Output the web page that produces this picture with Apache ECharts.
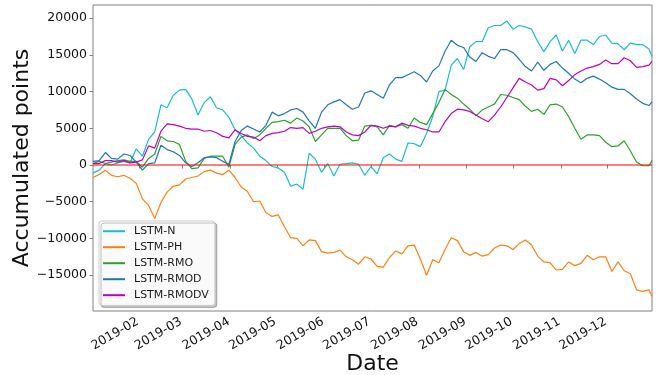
<!DOCTYPE html>
<html>
<head>
<meta charset="utf-8">
<script src="https://cdn.jsdelivr.net/npm/echarts@6/dist/echarts.min.js"></script>
<style>
  html, body { margin: 0; padding: 0; background: #fff; }
  #chart { width: 662px; height: 375px; }
</style>
</head>
<body>
<div id="chart"></div>
<script>
// Sampling dates (every four days through 2019)
const dates = [
  '2019-01-02','2019-01-06','2019-01-10','2019-01-14','2019-01-18','2019-01-22','2019-01-26','2019-01-30',
  '2019-02-03','2019-02-07','2019-02-11','2019-02-15','2019-02-19','2019-02-23','2019-02-27',
  '2019-03-03','2019-03-07','2019-03-11','2019-03-15','2019-03-19','2019-03-23','2019-03-27','2019-03-31',
  '2019-04-04','2019-04-08','2019-04-12','2019-04-16','2019-04-20','2019-04-24','2019-04-28',
  '2019-05-02','2019-05-06','2019-05-10','2019-05-14','2019-05-18','2019-05-22','2019-05-26','2019-05-30',
  '2019-06-03','2019-06-07','2019-06-11','2019-06-15','2019-06-19','2019-06-23','2019-06-27',
  '2019-07-01','2019-07-05','2019-07-09','2019-07-13','2019-07-17','2019-07-21','2019-07-25','2019-07-29',
  '2019-08-02','2019-08-06','2019-08-10','2019-08-14','2019-08-18','2019-08-22','2019-08-26','2019-08-30',
  '2019-09-03','2019-09-07','2019-09-11','2019-09-15','2019-09-19','2019-09-23','2019-09-27',
  '2019-10-01','2019-10-05','2019-10-09','2019-10-13','2019-10-17','2019-10-21','2019-10-25','2019-10-29',
  '2019-11-02','2019-11-06','2019-11-10','2019-11-14','2019-11-18','2019-11-22','2019-11-26','2019-11-30',
  '2019-12-04','2019-12-08','2019-12-12','2019-12-16','2019-12-20','2019-12-24','2019-12-28','2019-12-30'
];

const lstmN = [
  -1100,-700,200,0,300,500,300,2200,1200,3500,4500,8200,7800,9500,10200,
  10300,9000,6800,8500,9300,7800,7500,6500,
  4800,4000,3000,2300,1200,600,-200,
  -400,-1000,-2900,-2600,-3300,1600,800,-1000,
  200,-1500,100,200,300,100,-1400,
  -200,-1200,1000,1500,800,500,3000,2900,
  2500,4300,6600,10000,10200,13600,14500,13000,
  16100,16800,16800,18700,19000,19000,19600,
  18500,19000,18800,18500,16800,15400,16800,17700,
  15500,17000,15200,17000,17000,16400,17500,17700,
  16600,16500,15700,16600,16400,16400,15800,14800
];

const lstmPH = [
  -1700,-1300,-700,-1400,-1600,-1400,-1800,-2500,-4600,-5500,-7300,-5100,-3700,-2900,-2700,
  -1900,-1700,-1500,-900,-700,-1100,-1300,-700,
  -1700,-3000,-3600,-5000,-4900,-6500,-7000,
  -6800,-8400,-9900,-10000,-11000,-10200,-10300,-11800,
  -12000,-11900,-11600,-12500,-12900,-13500,-12500,
  -12800,-13800,-13900,-12600,-11700,-12100,-11000,-10900,
  -12800,-15000,-12900,-13300,-11500,-9900,-10300,-11800,
  -12300,-11900,-12400,-12200,-11300,-10900,-11000,
  -11500,-10700,-10200,-10900,-12400,-13200,-13300,-14300,
  -14200,-13200,-13700,-13400,-12300,-12900,-12500,-12500,
  -14500,-13200,-14400,-14800,-17000,-17200,-17000,-17900
];

const lstmRMO = [
  200,500,200,400,600,700,500,500,-300,900,1500,3900,3300,3200,2800,
  500,-500,-400,900,1200,1200,1200,-300,
  2800,3800,4100,3600,4100,5000,5800,
  5900,6100,5700,6400,6000,5200,3200,4100,
  5000,5000,5000,4000,3300,3400,5300,
  5400,5200,4100,5400,5200,5500,5000,6400,
  5800,5500,7000,8500,10300,9600,9100,8300,
  7600,6700,7500,7900,8300,9600,9500,
  9200,8900,8000,7300,7600,6900,8200,8300,
  7900,6600,5000,3500,4100,4100,4000,3100,
  2500,2600,3300,1900,400,-100,-100,600
];

const lstmRMOD = [
  500,600,1700,900,800,1500,1300,400,-700,200,300,2700,2100,1800,1300,
  300,-200,300,1000,1100,1000,500,100,
  3200,4700,5300,4900,4500,5400,7200,
  6700,7000,7500,7700,7200,6000,5000,7200,
  8200,8600,8900,8200,7600,7900,9800,
  10100,9600,9100,10900,11900,11900,12300,12700,
  12200,11300,12800,13500,15500,17000,16300,16000,
  14700,14100,15300,14800,14500,15700,15700,
  15300,14400,13400,12800,14000,12900,13700,14100,
  13200,12500,11700,11200,11800,12100,11700,11200,
  10600,10300,10300,9700,9000,8400,8100,8600
];

const lstmRMODV = [
  200,200,600,600,400,600,300,400,700,2600,2300,4600,5600,5500,5300,
  5000,4900,4900,4600,4700,4400,3900,3700,
  4800,4300,3900,3800,3300,4000,4300,
  4400,4600,5100,5000,5100,4300,4600,5000,
  5200,5300,5200,4500,4100,4000,4500,
  5400,5300,5000,5300,5200,5700,5400,5300,
  5000,4800,4500,4500,5900,7000,7600,7500,
  7300,6800,6300,5900,6800,7900,9200,
  10500,11800,11300,10900,10200,10400,11800,11600,
  10800,11500,12300,12800,13200,13400,13700,14300,
  13800,13800,14600,14200,13300,13400,13600,14100
];

const seriesNames = ['LSTM-N', 'LSTM-PH', 'LSTM-RMO', 'LSTM-RMOD', 'LSTM-RMODV'];
const seriesColors = ['#17becf', '#ff7f0e', '#2ca02c', '#1f77b4', '#bf00bf'];
const seriesValues = [lstmN, lstmPH, lstmRMO, lstmRMOD, lstmRMODV];

// Horizontal reference level
const zeroLevel = 0;

// Axis ticks
const monthTicks = ['2019-02','2019-03','2019-04','2019-05','2019-06','2019-07',
                    '2019-08','2019-09','2019-10','2019-11','2019-12'];
const yTicks = [-15000, -10000, -5000, 0, 5000, 10000, 15000, 20000];

const toTime = s => {
  const p = s.split('-').map(Number);
  return new Date(p[0], p[1] - 1, p[2] || 1).getTime();
};
const monthTickTimes = monthTicks.map(toTime);
const xMin = toTime(dates[0]);
const xMax = toTime(dates[dates.length - 1]);

const chart = echarts.init(document.getElementById('chart'), null, { renderer: 'canvas' });

const FONT = 'DejaVu Sans';
const TICK_FONT = 12.5;
const frameColor = '#808080';
const GRID = { left: 93, right: 10, top: 5, bottom: 64 };

const series = seriesNames.map((name, k) => ({
  name: name,
  type: 'line',
  showSymbol: false,
  symbol: 'none',
  smooth: false,
  animation: false,
  color: seriesColors[k],
  lineStyle: { width: 1.2, color: seriesColors[k] },
  z: 2,
  data: dates.map((d, i) => [toTime(d), seriesValues[k][i]])
}));

// red zero line across the whole year, drawn above the others
series.push({
  name: 'zero',
  type: 'line',
  symbol: 'none',
  silent: true,
  animation: false,
  z: 5,
  lineStyle: { width: 1.2, color: '#ff0000' },
  data: [[xMin, zeroLevel], [xMax, zeroLevel]]
});

const option = {
  backgroundColor: '#ffffff',
  animation: false,
  grid: Object.assign({
    show: true, borderColor: frameColor, borderWidth: 1, backgroundColor: 'transparent'
  }, GRID),
  legend: {
    orient: 'vertical',
    left: 99, top: 221,
    data: seriesNames,
    icon: 'rect',
    itemWidth: 22, itemHeight: 2,
    itemGap: 3.6,
    padding: [4, 6, 4, 4],
    backgroundColor: 'rgba(255,255,255,0.9)',
    borderColor: '#cccccc', borderWidth: 1, borderRadius: 3,
    shadowColor: 'rgba(0,0,0,0.25)', shadowOffsetX: 2, shadowOffsetY: 2, shadowBlur: 0,
    textStyle: { fontFamily: FONT, fontSize: 11, color: '#1a1a1a', lineHeight: 12.4, padding: [0, 0, 0, 4] }
  },
  xAxis: {
    type: 'value',
    min: xMin,
    max: xMax,
    axisLine: { show: false },
    splitLine: { show: false },
    axisTick: {
      show: true, inside: false, length: 3.5,
      customValues: monthTickTimes,
      lineStyle: { color: frameColor, width: 1 }
    },
    axisLabel: { show: false }
  },
  yAxis: {
    type: 'value',
    min: -19880,
    max: 21790,
    axisLine: { show: false },
    splitLine: { show: false },
    axisTick: {
      show: true, inside: false, length: 3.5,
      customValues: yTicks,
      lineStyle: { color: frameColor, width: 1 }
    },
    axisLabel: {
      customValues: yTicks,
      margin: 6,
      fontFamily: FONT, fontSize: TICK_FONT, color: '#111',
      formatter: v => String(v).replace('-', '\u2212')
    }
  },
  series: series
};

chart.setOption(option);

// Axis titles plus the rotated month labels; each month label sits at
// the pixel position the x axis gives for the first day of that month.
const axisBottom = 375 - GRID.bottom;
const monthLabels = monthTicks.map((label, i) => {
  const px = chart.convertToPixel({ xAxisIndex: 0 }, monthTickTimes[i]);
  return {
    type: 'text',
    x: px - 1.5,
    y: axisBottom + 9.7,
    rotation: Math.PI / 6,
    silent: true,
    style: {
      text: label, fontFamily: FONT, fontSize: TICK_FONT, fill: '#111',
      textAlign: 'right', textVerticalAlign: 'middle'
    }
  };
});

chart.setOption({
  graphic: [
    {
      type: 'text', x: 22, y: 158, rotation: Math.PI / 2,
      style: {
        text: 'Accumulated points', fontFamily: FONT, fontSize: 22, fill: '#111',
        textAlign: 'center', textVerticalAlign: 'middle'
      }
    },
    {
      type: 'text', x: 372.5, y: 364,
      style: {
        text: 'Date', fontFamily: FONT, fontSize: 22, fill: '#111',
        textAlign: 'center', textVerticalAlign: 'middle'
      }
    }
  ].concat(monthLabels)
});
</script>
</body>
</html>
